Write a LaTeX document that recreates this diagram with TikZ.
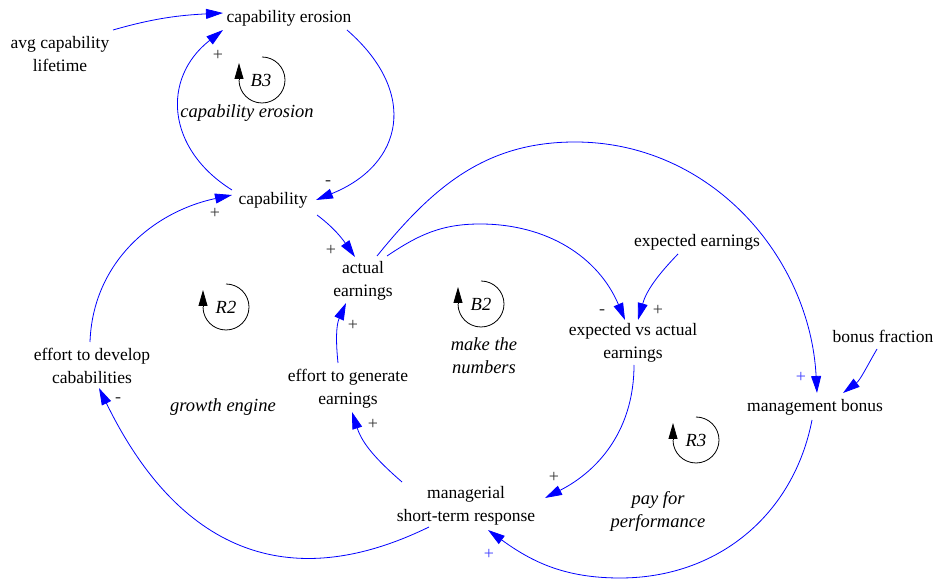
\documentclass[tikz,border=0pt]{standalone}
\usepackage{fontspec}
\setmainfont{Liberation Serif}
\usetikzlibrary{arrows.meta,calc}
\begin{document}
\begin{tikzpicture}[x=1pt,y=1pt,
  var/.style={align=center,inner sep=0pt,font=\fontsize{17.5}{23}\selectfont},
  lab/.style={align=center,inner sep=0pt,font=\fontsize{18.5}{23}\selectfont\itshape},
  sgn/.style={inner sep=0pt,font=\fontsize{18}{18}\selectfont,text=black!80},
  bsgn/.style={sgn,text=blue!75},
  link/.style={draw=blue,line width=0.8pt,-{Triangle[length=17pt,width=10pt]}},
  loopsym/.pic={
    \draw[line width=0.8pt] (0,23) arc (90:-180:23);
    \draw[line width=0.8pt,-{Triangle[length=16pt,width=9pt]}] (-23,0) -- (-23,17);
  }]
\useasboundingbox (0,0) rectangle (939,581);
% variables
\node[var] (ce)  at (289,563) {capability erosion};
\node[var] (avg) at (60,527)  {avg capability\\lifetime};
\node[var] (cap) at (273,381) {capability};
\node[var] (ae)  at (363,300) {actual\\earnings};
\node[var] (ee)  at (697,339) {expected earnings};
\node[var] (eva) at (633,238) {expected vs actual\\earnings};
\node[var] (bf)  at (883,245) {bonus fraction};
\node[var] (mb)  at (815,174) {management bonus};
\node[var] (edc) at (92,215)  {effort to develop\\cababilities};
\node[var] (ege) at (348,192) {effort to generate\\earnings};
\node[var] (msr) at (466,75)  {managerial\\short-term response};
% waypoints
\coordinate (top9) at (575,439);
\coordinate (top10) at (480,357);
\coordinate (bot14) at (620,3);
% loops
\pic at (262,501) {loopsym};
\node[lab] (b3) at (261,501) {B3};
\node[lab] (b3t) at (247,468) {capability erosion};
\pic at (226,274) {loopsym};
\node[lab] (r2) at (226,274) {R2};
\node[lab] (r2t) at (223,174) {growth engine};
\pic at (481,277) {loopsym};
\node[lab] (b2) at (481,277) {B2};
\node[lab] (b2t) at (484,225) {make the\\numbers};
\pic at (696,141) {loopsym};
\node[lab] (r3) at (696,141) {R3};
\node[lab] (r3t) at (658,70) {pay for\\performance};
% links
\draw[link] ($(avg)+(53,24)$) to[out=16,in=183] ($(ce)+(-66,5)$);
\draw[link] ($(cap)+(-41,10)$) .. controls +(148:78) and +(218:78) .. ($(ce)+(-66,-12)$);
\draw[link] ($(ce)+(58,-12)$) .. controls +(-41:95) and +(22:95) .. ($(cap)+(43,0)$);
\draw[link] ($(cap)+(44,-15)$) to[out=-37,in=125] ($(ae)+(-8,24)$);
\draw[link] ($(edc)+(-2,24)$) to[out=88,in=192] ($(cap)+(-41,5)$);
\draw[link] ($(msr)+(-37,-21)$) to[out=206,in=-64,looseness=1.2] ($(edc)+(7,-22)$);
\draw[link] ($(msr)+(-64,24)$) to[out=139,in=-72] ($(ege)+(4,-23)$);
\draw[link] ($(ege)+(-10,26)$) to[out=96,in=246] ($(ae)+(-17,-22)$);
\draw[link] ($(ae)+(14,25)$) to[out=51,in=180] (top9) to[out=0,in=93] ($(mb)+(2,14)$);
\draw[link] ($(ae)+(24,25)$) to[out=34,in=180] (top10) to[out=0,in=113] ($(eva)+(-8,23)$);
\draw[link] ($(ee)+(-19,-12)$) to[out=226,in=74] ($(eva)+(5,23)$);
\draw[link] ($(eva)+(1,-22)$) to[out=-90,in=27] ($(msr)+(79,8)$);
\draw[link] ($(bf)+(-6,-13)$) to[out=240,in=37] ($(mb)+(28,14)$);
\draw[link] ($(mb)+(-3,-13)$) to[out=259,in=0] (bot14) to[out=180,in=-36] ($(msr)+(22,-24)$);
% polarities
\node[sgn] (s1) at (218,526) {+};
\node[sgn] (s2) at (328,398) {-};
\node[sgn] (s3) at (215,368) {+};
\node[sgn] (s4) at (331,331) {+};
\node[sgn] (s5) at (353,256) {+};
\node[sgn] (s6) at (373,157) {+};
\node[sgn] (s7) at (118,181) {-};
\node[sgn] (s8) at (602,269) {-};
\node[sgn] (s9) at (658,271) {+};
\node[sgn] (s10) at (554,104) {+};
\node[bsgn] (s11) at (801,204) {+};
\node[bsgn] (s12) at (489,27) {+};
\end{tikzpicture}
\end{document}
